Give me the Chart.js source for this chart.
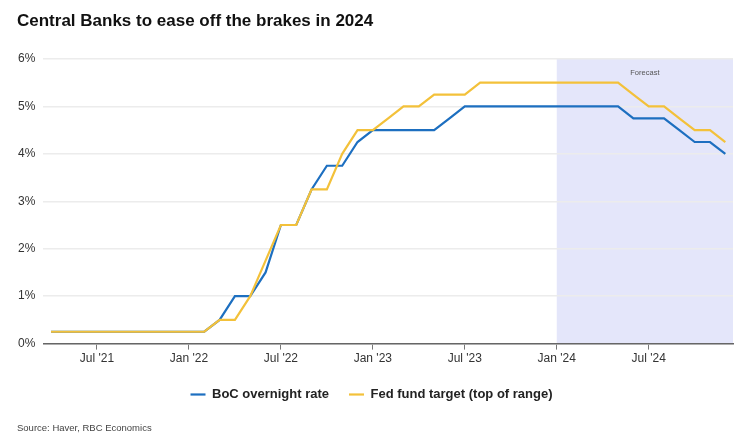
<!DOCTYPE html>
<html>
<head>
<meta charset="utf-8">
<script src="https://cdn.jsdelivr.net/npm/chart.js@4/dist/chart.umd.min.js"></script>
<style>
    body { margin: 0; background: #fff; }
    #wrap { position: relative; width: 748px; height: 447px; font-family: "Liberation Sans", Arial, sans-serif; }
    #title { position: absolute; left: 17px; top: 11px; font-size: 17px; font-weight: bold; color: #111; }
    #source { position: absolute; left: 17px; top: 422px; font-size: 9.5px; color: #444; }
    canvas { position: absolute; left: 0; top: 0; }
</style>
</head>
<body>
<div id="wrap">
    <canvas id="chart" width="748" height="447"></canvas>
    <div id="title">Central Banks to ease off the brakes in 2024</div>
    <div id="source">Source: Haver, RBC Economics</div>
</div>
<script>
// monthly, Apr '21 .. Dec '24
const months = [
    "Apr '21", "May '21", "Jun '21", "Jul '21", "Aug '21", "Sep '21", "Oct '21", "Nov '21", "Dec '21",
    "Jan '22", "Feb '22", "Mar '22", "Apr '22", "May '22", "Jun '22", "Jul '22", "Aug '22", "Sep '22", "Oct '22", "Nov '22", "Dec '22",
    "Jan '23", "Feb '23", "Mar '23", "Apr '23", "May '23", "Jun '23", "Jul '23", "Aug '23", "Sep '23", "Oct '23", "Nov '23", "Dec '23",
    "Jan '24", "Feb '24", "Mar '24", "Apr '24", "May '24", "Jun '24", "Jul '24", "Aug '24", "Sep '24", "Oct '24", "Nov '24", "Dec '24"
];

const bocRate = [
    0.25, 0.25, 0.25, 0.25, 0.25, 0.25, 0.25, 0.25, 0.25,
    0.25, 0.25, 0.5, 1.0, 1.0, 1.5, 2.5, 2.5, 3.25, 3.75, 3.75, 4.25,
    4.5, 4.5, 4.5, 4.5, 4.5, 4.75, 5.0, 5.0, 5.0, 5.0, 5.0, 5.0,
    5.0, 5.0, 5.0, 5.0, 5.0, 4.75, 4.75, 4.75, 4.5, 4.25, 4.25, 4.0
];

const fedRate = [
    0.25, 0.25, 0.25, 0.25, 0.25, 0.25, 0.25, 0.25, 0.25,
    0.25, 0.25, 0.5, 0.5, 1.0, 1.75, 2.5, 2.5, 3.25, 3.25, 4.0, 4.5,
    4.5, 4.75, 5.0, 5.0, 5.25, 5.25, 5.25, 5.5, 5.5, 5.5, 5.5, 5.5,
    5.5, 5.5, 5.5, 5.5, 5.5, 5.25, 5.0, 5.0, 4.75, 4.5, 4.5, 4.25
];

const forecastStart = "Jan '24";

const blue = '#1d6fc0';
const yellow = '#f3c13a';

// shaded forecast area, drawn under the grid
const forecastBand = {
    id: 'forecastBand',
    beforeDraw(chart) {
        const { ctx, chartArea, scales } = chart;
        const x0 = scales.x.getPixelForValue(months.indexOf(forecastStart));
        ctx.save();
        ctx.fillStyle = '#e4e6fa';
        ctx.fillRect(x0, chartArea.top, chartArea.right - x0, chartArea.bottom - chartArea.top);
        ctx.fillStyle = '#555';
        ctx.font = '7.5px "Liberation Sans", Arial, sans-serif';
        ctx.textAlign = 'center';
        ctx.textBaseline = 'middle';
        ctx.fillText('Forecast', x0 + (chartArea.right - x0) * 0.5, chartArea.top + 14);
        ctx.restore();
    }
};

new Chart(document.getElementById('chart'), {
    type: 'line',
    data: {
        labels: months,
        datasets: [
            {
                label: 'BoC overnight rate',
                data: bocRate,
                borderColor: blue,
                backgroundColor: blue,
                borderWidth: 2.2,
                pointRadius: 0,
                tension: 0,
                order: 1
            },
            {
                label: 'Fed fund target (top of range)',
                data: fedRate,
                borderColor: yellow,
                backgroundColor: yellow,
                borderWidth: 2.2,
                pointRadius: 0,
                tension: 0,
                order: 0
            }
        ]
    },
    options: {
        responsive: false,
        animation: false,
        layout: { padding: { top: 59, left: 10, right: 15, bottom: 36 } },
        plugins: {
            title: { display: false },
            tooltip: { enabled: false },
            legend: {
                position: 'bottom',
                labels: {
                    usePointStyle: true,
                    pointStyleWidth: 15,
                    pointStyle: 'line',
                    boxHeight: 12,
                    padding: 20,
                    color: '#222',
                    font: { family: '"Liberation Sans", Arial, sans-serif', size: 13, weight: 'bold' },
                    sort: (a, b) => a.datasetIndex - b.datasetIndex
                }
            }
        },
        scales: {
            x: {
                offset: true,
                grid: {
                    drawOnChartArea: false,
                    tickLength: 6,
                    color: (c) => {
                        const m = months[c.index] || '';
                        return (m.startsWith('Jan') || m.startsWith('Jul')) ? '#777' : 'rgba(0,0,0,0)';
                    }
                },
                border: { color: '#666', width: 1.5 },
                ticks: {
                    autoSkip: false,
                    maxRotation: 0,
                    padding: 2,
                    color: '#333',
                    font: { family: '"Liberation Sans", Arial, sans-serif', size: 12 },
                    callback: function (v, i) {
                        const m = months[i];
                        return (m.startsWith('Jan') || m.startsWith('Jul')) ? m : '';
                    }
                }
            },
            y: {
                min: 0,
                max: 6,
                ticks: {
                    stepSize: 1,
                    padding: 8,
                    color: '#333',
                    font: { family: '"Liberation Sans", Arial, sans-serif', size: 12 },
                    callback: (v) => v + '%'
                },
                grid: { color: '#ececec', lineWidth: 1.5, drawTicks: false },
                border: { display: false }
            }
        }
    },
    plugins: [forecastBand]
});
</script>
</body>
</html>
